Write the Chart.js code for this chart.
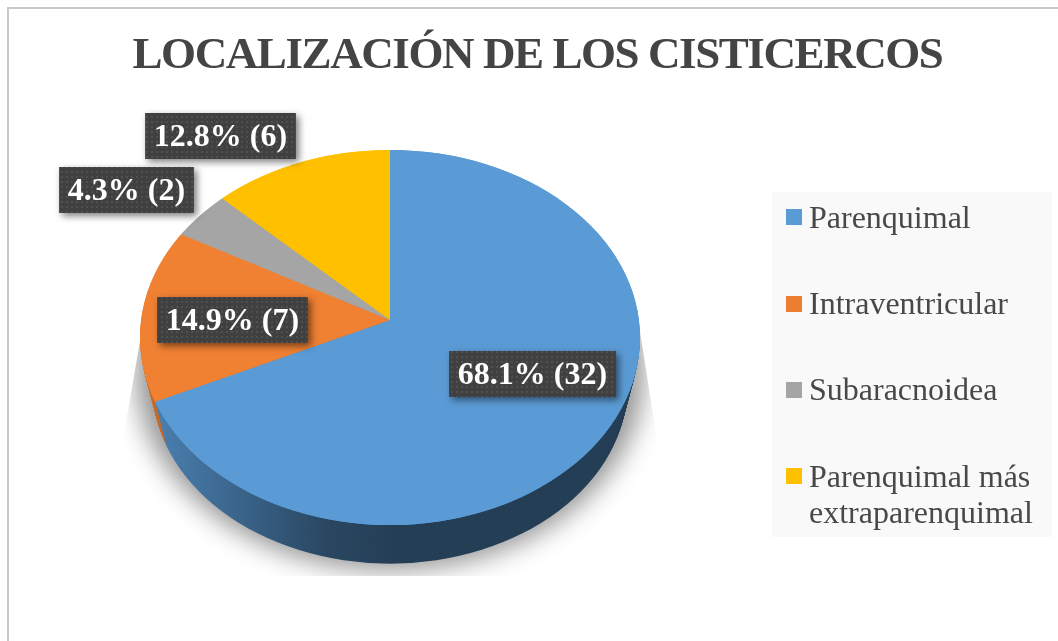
<!DOCTYPE html>
<html lang="es">
<head>
<meta charset="utf-8">
<style>html,body{margin:0;padding:0;background:#fff;overflow:hidden}canvas{display:block}</style>
<script src="https://cdn.jsdelivr.net/npm/chart.js@4"></script>
</head>
<body>
<canvas id="c" width="1058" height="641"></canvas>
<script>
const titleText = 'LOCALIZACIÓN DE LOS CISTICERCOS';
const categories = ['Parenquimal', 'Intraventricular', 'Subaracnoidea', 'Parenquimal más extraparenquimal'];
const legendLines = [['Parenquimal'], ['Intraventricular'], ['Subaracnoidea'], ['Parenquimal más', 'extraparenquimal']];
const counts = [32, 7, 2, 6];
const colors = ['#5b9bd5', '#f08133', '#a5a5a5', '#ffc000'];
const legendColors = ['#5b9bd5', '#ed7d31', '#a5a5a5', '#ffc000'];

const SERIF = '"Liberation Serif", serif';
const PIE = {cx: 390, cy: 320, rx: 250, ryTop: 170, ryBottom: 205, depth: 48, shrink: 0.05, layers: 48,
  persp: -0.0933, perspX: 248, perspY: 185.9, outlineCy: 337.5, outlineRy: 187.5, over: 1.2};
const LABEL_CENTERS = [[532.5, 374], [232.5, 320], [126.5, 190], [220.5, 136]];
const LEGEND = {x: 772, y: 192, w: 280, h: 345, swatchX: 786, swatch: 16, textX: 809, size: 32,
  swatchY: [209, 296, 382, 468], baselines: [[228], [314], [400], [487, 523]]};

// Perspective tilt: moves a slice boundary to where the tilted view shows it.
function tiltAngle(angle) {
  const theta = angle + Math.PI / 2;
  const u = Math.sin(theta), v = -Math.cos(theta);
  const d = 1 + PIE.persp * v;
  const x = PIE.perspX * u / d, y = PIE.perspY * v / d;
  const ry = y < 0 ? PIE.ryTop : PIE.ryBottom;
  let t = Math.atan2(x / PIE.rx, -y / ry);
  while (t < theta - Math.PI) t += Math.PI * 2;
  return t - Math.PI / 2;
}

function drawPieFace(chart, ctx, dy, k) {
  const arcs = chart.getDatasetMeta(0).data;
  const W = chart.width, H = chart.height, splitY = PIE.cy + dy;
  ctx.save();
  // the tilted disc's true outline
  ctx.beginPath();
  ctx.ellipse(PIE.cx, PIE.outlineCy + dy, PIE.rx * k, PIE.outlineRy * k, 0, 0, Math.PI * 2);
  ctx.clip();
  [[0, splitY, PIE.ryTop], [splitY, H - splitY, PIE.ryBottom]].forEach(([top, h, ry]) => {
    ctx.save();
    ctx.beginPath();
    ctx.rect(0, top, W, h);
    ctx.clip();
    arcs.forEach(a => {
      const s0 = a.startAngle, e0 = a.endAngle, c0 = a.circumference;
      a.startAngle = tiltAngle(s0);
      a.endAngle = tiltAngle(e0);
      a.circumference = a.endAngle - a.startAngle;
      ctx.save();
      ctx.translate(PIE.cx, splitY);
      ctx.scale(PIE.rx * PIE.over / a.outerRadius, ry * PIE.over / a.outerRadius);
      ctx.translate(-a.x, -a.y);
      a.draw(ctx);
      ctx.restore();
      a.startAngle = s0; a.endAngle = e0; a.circumference = c0;
    });
    ctx.restore();
  });
  ctx.restore();
}

function dotPattern(ctx) {
  const p = document.createElement('canvas');
  p.width = 5; p.height = 5;
  const g = p.getContext('2d');
  g.fillStyle = '#404040';
  g.fillRect(0, 0, 5, 5);
  g.fillStyle = '#505050';
  g.fillRect(1, 1, 2, 2);
  return ctx.createPattern(p, 'repeat');
}

const pie3d = {
  id: 'pie3d',
  afterLayout(chart) {
    chart.titleBlock.left = 17;
    chart.titleBlock.right = 1058;
  },
  beforeDraw(chart) {
    chart.ctx.letterSpacing = '-1.42px';
  },
  beforeDatasetsDraw(chart) {
    const ctx = chart.ctx;
    ctx.letterSpacing = '0px';
    // side wall
    for (let i = PIE.layers; i >= 1; i--) {
      const t = i / PIE.layers;
      drawPieFace(chart, ctx, PIE.depth * t, 1 - PIE.shrink * t);
    }
    ctx.save();
    ctx.globalCompositeOperation = 'source-atop';
    const g = ctx.createLinearGradient(150, 0, 640, 0);
    g.addColorStop(0, 'rgba(0,0,0,0.16)');
    g.addColorStop(0.36, 'rgba(0,0,0,0.54)');
    g.addColorStop(0.5, 'rgba(0,0,0,0.6)');
    g.addColorStop(1, 'rgba(0,0,0,0.6)');
    ctx.fillStyle = g;
    ctx.fillRect(0, 300, chart.width, chart.height - 300);
    ctx.restore();
    // top face
    drawPieFace(chart, ctx, 0, 1);
    drawPieFace(chart, ctx, 0, 1);
    // soft shadow beneath
    ctx.save();
    ctx.globalCompositeOperation = 'destination-over';
    ctx.beginPath();
    ctx.moveTo(141, 335); ctx.lineTo(123, 440); ctx.lineTo(123, 576);
    ctx.lineTo(655, 576); ctx.lineTo(657, 440); ctx.lineTo(639, 325);
    ctx.closePath();
    ctx.clip();
    ctx.shadowColor = 'rgba(0,0,0,0.42)';
    ctx.shadowBlur = 26;
    ctx.shadowOffsetX = 3000;
    ctx.fillStyle = '#000';
    ctx.beginPath();
    ctx.ellipse(390 - 3000, 372, 254, 198, 0, 0, Math.PI * 2);
    ctx.fill();
    ctx.restore();
    return false;
  },
  afterDraw(chart) {
    const ctx = chart.ctx;
    // frame
    ctx.save();
    ctx.strokeStyle = '#c9c9c9';
    ctx.lineWidth = 2;
    ctx.beginPath();
    ctx.moveTo(8, 641); ctx.lineTo(8, 8); ctx.lineTo(1058, 8);
    ctx.stroke();
    ctx.restore();
    // legend
    ctx.save();
    ctx.fillStyle = '#f9f9f9';
    ctx.fillRect(LEGEND.x, LEGEND.y, LEGEND.w, LEGEND.h);
    ctx.font = LEGEND.size + 'px ' + SERIF;
    ctx.textBaseline = 'alphabetic';
    ctx.textAlign = 'left';
    legendLines.forEach((lines, i) => {
      ctx.fillStyle = legendColors[i];
      ctx.fillRect(LEGEND.swatchX, LEGEND.swatchY[i], LEGEND.swatch, LEGEND.swatch);
      ctx.fillStyle = '#484848';
      lines.forEach((ln, j) => ctx.fillText(ln, LEGEND.textX, LEGEND.baselines[i][j]));
    });
    ctx.restore();
    // data labels
    const total = counts.reduce((s, v) => s + v, 0);
    const pattern = dotPattern(ctx);
    ctx.save();
    ctx.font = 'bold 32px ' + SERIF;
    ctx.textAlign = 'center';
    ctx.textBaseline = 'middle';
    counts.forEach((v, i) => {
      const txt = (v / total * 100).toFixed(1) + '% (' + v + ')';
      const [x, y] = LABEL_CENTERS[i];
      const w = ctx.measureText(txt).width + 17, h = 46;
      ctx.save();
      ctx.shadowColor = 'rgba(0,0,0,0.5)';
      ctx.shadowBlur = 7;
      ctx.shadowOffsetX = 3;
      ctx.shadowOffsetY = 3;
      ctx.fillStyle = '#404040';
      ctx.fillRect(x - w / 2, y - h / 2, w, h);
      ctx.restore();
      ctx.fillStyle = pattern;
      ctx.fillRect(x - w / 2, y - h / 2, w, h);
      ctx.fillStyle = '#fff';
      ctx.fillText(txt, x, y + 2);
    });
    ctx.restore();
  }
};

new Chart(document.getElementById('c'), {
  type: 'pie',
  data: {
    labels: categories,
    datasets: [{data: counts, backgroundColor: colors, borderWidth: 0}]
  },
  options: {
    responsive: false,
    animation: false,
    layout: {padding: {top: 0, bottom: 20, left: 100, right: 400}},
    plugins: {
      legend: {display: false},
      tooltip: {enabled: false},
      title: {
        display: true,
        text: titleText,
        color: '#444444',
        font: {family: SERIF, size: 45, weight: 'bold'},
        padding: {top: 29, bottom: 10}
      }
    }
  },
  plugins: [pie3d]
});
</script>
</body>
</html>
